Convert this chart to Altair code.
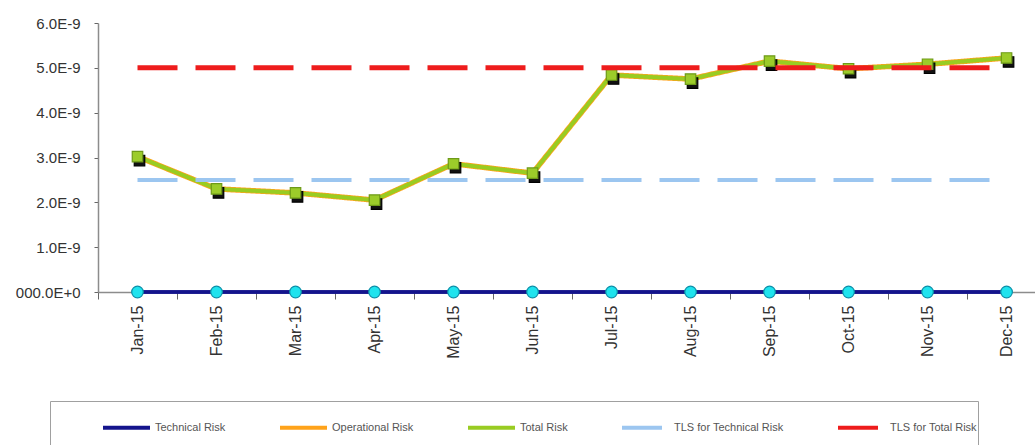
import json
import altair as alt
import pandas as pd

# Monthly risk levels, 2015
months = ["Jan-15", "Feb-15", "Mar-15", "Apr-15", "May-15", "Jun-15",
          "Jul-15", "Aug-15", "Sep-15", "Oct-15", "Nov-15", "Dec-15"]
technical_risk = [0.0] * 12
operational_risk = [3.02e-9, 2.30e-9, 2.21e-9, 2.05e-9, 2.86e-9, 2.65e-9,
                    4.84e-9, 4.75e-9, 5.15e-9, 4.98e-9, 5.08e-9, 5.22e-9]
total_risk = [3.02e-9, 2.30e-9, 2.21e-9, 2.05e-9, 2.86e-9, 2.65e-9,
              4.84e-9, 4.75e-9, 5.15e-9, 4.98e-9, 5.08e-9, 5.22e-9]
tls_technical = [2.5e-9] * 12
tls_total = [5.0e-9] * 12

series_names = ["Technical Risk", "Operational Risk", "Total Risk",
                "TLS for Technical Risk", "TLS for Total Risk"]
series_values = [technical_risk, operational_risk, total_risk,
                 tls_technical, tls_total]
series_colors = ["#14148c", "#ffa31a", "#99cc22", "#9cc6f0", "#ee1c1c"]
series_dash = [[1, 0], [1, 0], [1, 0], [40, 18], [40, 18]]
series_width = [3.5, 5.5, 4, 4, 5]

y_ticks = [0, 1e-9, 2e-9, 3e-9, 4e-9, 5e-9, 6e-9]

rows = []
for name, vals in zip(series_names, series_values):
    for i, (m, v) in enumerate(zip(months, vals)):
        rows.append({"series": name, "month": m, "idx": i, "value": v})
df = pd.DataFrame(rows)

font = "Liberation Sans"
x_scale = alt.Scale(domain=[-0.5, 11.36], nice=False, zero=False)
y_scale = alt.Scale(domain=[0, 6e-9], nice=False, zero=True)

# month labels sit under the points; ticks mark the boundaries between months
label_axis = alt.Axis(
    orient="bottom", values=list(range(12)), ticks=False, grid=False,
    labelExpr=json.dumps(months) + "[datum.value]",
    labelAngle=270, labelAlign="right", labelBaseline="middle",
    labelPadding=13, labelFont=font, labelFontSize=16, labelColor="#333333",
    domainColor="#8c8c8c", domainWidth=1.5, title=None,
)
tick_axis = alt.Axis(
    orient="bottom", values=[k - 0.5 for k in range(13)], labels=False,
    domain=False, grid=False, ticks=True, tickSize=7, tickColor="#666666",
    tickWidth=1, title=None,
)
y_axis = alt.Axis(
    values=y_ticks, grid=False, tickSize=4, tickColor="#666666",
    labelExpr="datum.value == 0 ? '000.0E+0' : format(datum.value * 1e9, '.1f') + 'E-9'",
    labelPadding=14, labelFont=font, labelFontSize=15, labelColor="#333333",
    domainColor="#8c8c8c", domainWidth=1.5, title=None,
)

# framed key along the bottom; the blank left-hand title indents the entries
legend = alt.Legend(
    orient="none", legendX=-48, legendY=378, direction="horizontal",
    columns=5, columnPadding=46, symbolType="stroke", symbolSize=2209,
    symbolStrokeWidth=4, labelFont=font, labelFontSize=11, labelColor="#555555",
    labelOffset=3, padding=1, strokeColor="#a0a0a0",
    titleOrient="left", titlePadding=50, titleFontSize=80, titleAnchor="start",
)
color = alt.Color("series:N", title=" ",
                  scale=alt.Scale(domain=series_names, range=series_colors),
                  legend=legend)
dash = alt.StrokeDash("series:N", title=" ",
                      scale=alt.Scale(domain=series_names, range=series_dash),
                      legend=legend)

base = alt.Chart(df)
y_enc = alt.Y("value:Q", scale=y_scale, axis=y_axis)


def series_line(name, width, axis=None):
    return base.transform_filter(alt.datum.series == name).mark_line(
        strokeWidth=width, strokeCap="butt"
    ).encode(
        x=alt.X("idx:Q", scale=x_scale, axis=axis),
        y=y_enc, color=color, strokeDash=dash,
    )


def series_points(name, shape, size, fill, stroke, dx=0, dy=0):
    return base.transform_filter(alt.datum.series == name).mark_point(
        shape=shape, size=size, filled=True, opacity=1,
        fill=fill, stroke=stroke, strokeWidth=1.2,
    ).encode(
        x=alt.X("idx:Q", scale=x_scale, axis=None),
        y=y_enc,
        xOffset=alt.value(dx), yOffset=alt.value(dy),
    )


tech_line = series_line("Technical Risk", series_width[0], axis=label_axis)
tech_ticks = series_line("Technical Risk", series_width[0], axis=tick_axis)
tech_pts = series_points("Technical Risk", "circle", 135, "#1fe3ee", "#0a8fa8")
op_line = series_line("Operational Risk", series_width[1])
op_pts = series_points("Operational Risk", "square", 110, "#111111", "#000000", 2, 4)
tot_line = series_line("Total Risk", series_width[2])
tot_pts = series_points("Total Risk", "square", 110, "#9ccc2a", "#6e9a18")
tls_tech_line = series_line("TLS for Technical Risk", series_width[3])
tls_tot_line = series_line("TLS for Total Risk", series_width[4])

chart = alt.layer(
    tech_ticks, tech_line, tech_pts, op_line, tot_line, op_pts, tot_pts,
    tls_tech_line, tls_tot_line,
).resolve_axis(x="independent").properties(
    width=937, height=269,
    padding={"left": 98, "top": 23, "right": 0, "bottom": 153},
    autosize=alt.AutoSizeParams(type="none"),
    background="white",
).configure_view(stroke=None)

chart.save("out.html", embed_options={"renderer": "svg", "actions": False})
